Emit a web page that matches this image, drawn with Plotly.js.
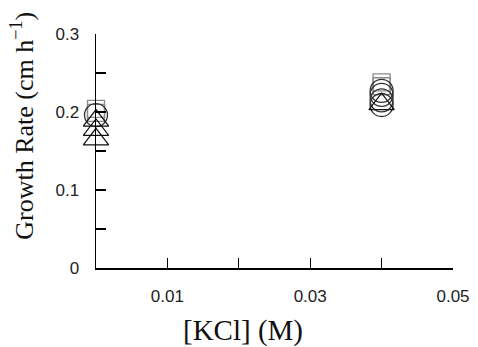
<!DOCTYPE html>
<html>
<head>
<meta charset="utf-8">
<script src="https://cdn.plot.ly/plotly-3.0.1.min.js"></script>
<style>html,body{margin:0;padding:0;background:#fff;}#chart{width:478px;height:347px;}</style>
</head>
<body>
<div id="chart"></div>
<script>
// x positions: KCl concentration (M)
const squareX = [0, 0, 0.04, 0.04];
const squareY = [0.204, 0.199, 0.238, 0.233];
const circleX = [0, 0.04, 0.04, 0.04, 0.04];
const circleY = [0.196, 0.227, 0.222, 0.215, 0.209];
const triangleX = [0, 0, 0, 0.04];
const triangleY = [0.189, 0.177, 0.165, 0.210];

const xTickVals = [0.01, 0.03, 0.05];
const xTickText = ['0.01', '0.03', '0.05'];
const yTickVals = [0, 0.1, 0.2, 0.3];
const yTickText = ['0', '0.1', '0.2', '0.3'];
const xTitle = '[KCl] (M)';
const yTitle = 'Growth Rate (cm h<sup>−1</sup>)';

const traces = [
  {x: squareX, y: squareY, type: 'scatter', mode: 'markers', cliponaxis: false,
   marker: {symbol: 'square-open', size: 17, color: '#8a8a8a', line: {width: 1.3, color: '#8a8a8a'}}},
  {x: circleX, y: circleY, type: 'scatter', mode: 'markers', cliponaxis: false,
   marker: {symbol: 'circle-open', size: 23, color: '#333', line: {width: 1.3, color: '#333'}}},
  {x: triangleX, y: triangleY, type: 'scatter', mode: 'markers', cliponaxis: false,
   marker: {symbol: 'triangle-up-open', size: 22, color: '#111', line: {width: 1.2, color: '#111'}}}
];

const serif = 'Liberation Serif, Times New Roman, serif';

const layout = {
  width: 478, height: 347,
  margin: {l: 96, r: 25, t: 34, b: 79},
  paper_bgcolor: '#fff', plot_bgcolor: '#fff',
  showlegend: false,
  font: {family: 'Liberation Sans, Arial, sans-serif', color: '#222', size: 17},
  xaxis: {
    range: [0, 0.05], showgrid: false, zeroline: false,
    showline: true, linecolor: '#000', linewidth: 1.5,
    ticks: 'inside', ticklen: 10, tickwidth: 1.3, tickcolor: '#000',
    tickmode: 'array', tickvals: xTickVals, ticktext: xTickText,
    ticklabelstandoff: 12,
    tickfont: {size: 17},
    minor: {ticks: 'inside', ticklen: 10, tickwidth: 1.3, tickcolor: '#000', tick0: 0, dtick: 0.01, showgrid: false}
  },
  yaxis: {
    range: [0, 0.3], showgrid: false, zeroline: false,
    showline: true, linecolor: '#000', linewidth: 1.5,
    ticks: 'inside', ticklen: 10, tickwidth: 1.3, tickcolor: '#000',
    tickmode: 'array', tickvals: yTickVals, ticktext: yTickText,
    ticklabelstandoff: 12,
    tickfont: {size: 17},
    minor: {ticks: 'inside', ticklen: 10, tickwidth: 1.3, tickcolor: '#000', tick0: 0, dtick: 0.05, showgrid: false}
  },
  annotations: [
    {text: xTitle, xref: 'paper', yref: 'paper', x: 0.412, y: -0.265,
     xanchor: 'center', yanchor: 'middle', showarrow: false,
     font: {family: serif, size: 29, color: '#111'}},
    {text: yTitle, xref: 'paper', yref: 'paper', x: -0.205, y: 0.607,
     xanchor: 'center', yanchor: 'middle', showarrow: false, textangle: -90,
     font: {family: serif, size: 26, color: '#111'}}
  ]
};

Plotly.newPlot('chart', traces, layout, {displayModeBar: false, staticPlot: true});
</script>
</body>
</html>
